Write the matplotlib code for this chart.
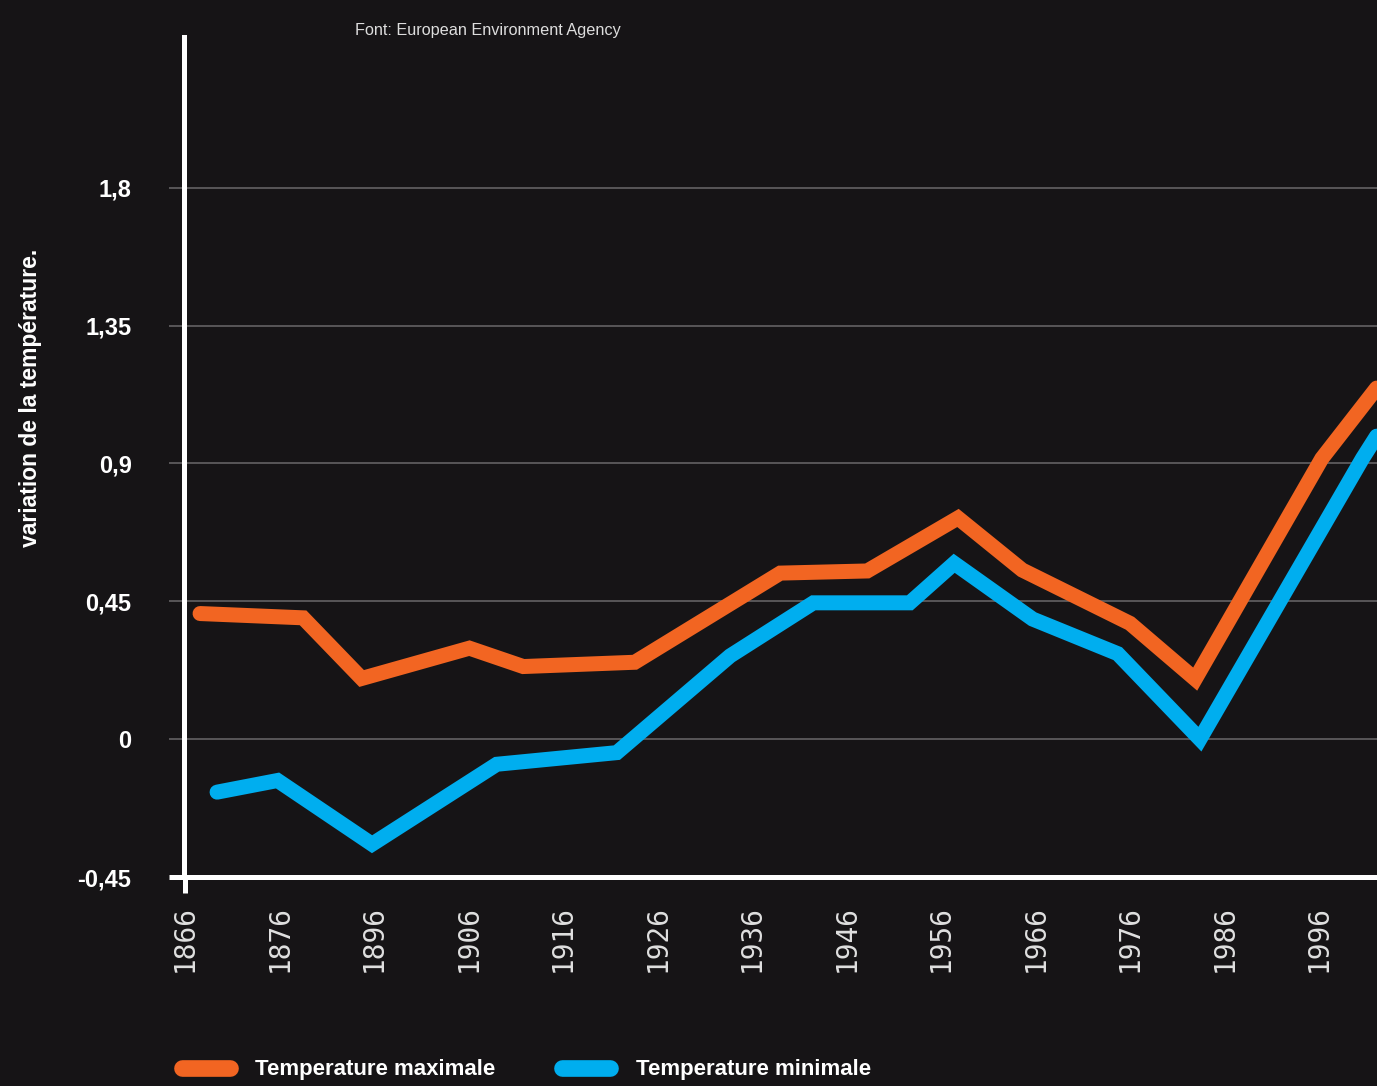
import matplotlib
matplotlib.use("Agg")
import matplotlib.pyplot as plt
from matplotlib.lines import Line2D

# x tick labels (evenly spaced on the axis, 1886 is skipped in the source)
tick_labels = ["1866", "1876", "1896", "1906", "1916", "1926", "1936",
               "1946", "1956", "1966", "1976", "1986", "1996"]

# positions in tick-index units
max_x = [0.16, 1.25, 1.87, 3.01, 3.58, 4.76, 6.30, 7.22, 8.18, 8.86, 10.0, 10.69, 12.03, 12.61]
max_y = [0.41, 0.396, 0.198, 0.297, 0.237, 0.251, 0.542, 0.549, 0.722, 0.552, 0.378, 0.196, 0.916, 1.146]

min_x = [0.34, 0.98, 1.98, 3.30, 4.57, 5.77, 6.65, 7.67, 8.14, 8.97, 9.87, 10.74, 12.46, 12.61]
min_y = [-0.173, -0.135, -0.343, -0.082, -0.044, 0.272, 0.445, 0.445, 0.574, 0.392, 0.279, 0.0, 0.916, 0.989]

y_ticks = [-0.45, 0, 0.45, 0.9, 1.35, 1.8]
y_labels = ["-0,45", "0", "0,45", "0,9", "1,35", "1,8"]

bg = "#161416"
orange = "#F26522"
blue = "#00AEEF"
grid_c = "#5e5c5e"

fig = plt.figure(figsize=(13.77, 10.86), dpi=100, facecolor=bg)
ax = fig.add_axes([184 / 1377, 1 - 877 / 1086, 1193 / 1377, 840 / 1086])
ax.set_facecolor(bg)

ax.plot(min_x, min_y, color=blue, lw=10.8, solid_capstyle="round",
        solid_joinstyle="miter", zorder=3)
ax.plot(max_x, max_y, color=orange, lw=10.8, solid_capstyle="round",
        solid_joinstyle="miter", zorder=3)

ax.set_xlim(-0.01, 12.614)
ax.set_ylim(-0.45, 2.292)

ax.set_xticks(range(len(tick_labels)))
ax.set_xticklabels(tick_labels, rotation=90, family="DejaVu Sans Mono",
                   fontsize=20, color="#e0e0e0")
ax.tick_params(axis="x", length=0, pad=20)
ax.xaxis.remove_overlapping_locs = False
ax.set_xticks([0], minor=True)
ax.tick_params(axis="x", which="minor", length=11.5, width=3.6, color="white")

ax.set_yticks(y_ticks, y_labels)
ax.tick_params(axis="y", length=10.8, width=1.3, color=grid_c, pad=27,
               labelsize=17, labelcolor="white")
for lab in ax.get_yticklabels():
    lab.set_fontfamily("Liberation Sans")
    lab.set_fontweight("bold")
first = ax.yaxis.get_major_ticks()[0]
first.tick1line.set_markeredgecolor("white")
first.tick1line.set_markeredgewidth(3.6)

ax.grid(axis="y", color=grid_c, lw=1.3)
ax.set_axisbelow(True)

for side in ["top", "right"]:
    ax.spines[side].set_visible(False)
for side in ["left", "bottom"]:
    ax.spines[side].set_color("white")
    ax.spines[side].set_linewidth(3.6)

fig.text(31 / 1377, 1 - 398 / 1086, "variation de la température.", rotation=90,
         ha="center", va="center", fontsize=16.5, fontweight="bold",
         family="Liberation Sans", color="white")

fig.text(355 / 1377, 1 - 31 / 1086, "Font: European Environment Agency",
         color="#dddddd", va="center", family="Liberation Sans", fontsize=11.7)

handles = [Line2D([], [], color=orange, lw=12, solid_capstyle="round"),
           Line2D([], [], color=blue, lw=12, solid_capstyle="round")]
fig.legend(handles, ["Temperature maximale", "Temperature minimale"],
           loc="center left", bbox_to_anchor=(181.5 / 1377, 1 - 1070 / 1086),
           ncol=2, frameon=False, handlelength=2.16, handletextpad=1.15,
           columnspacing=3.0, borderpad=0, borderaxespad=0,
           prop=dict(family="Liberation Sans", weight="bold", size=16),
           labelcolor="white")

fig.savefig("out.png", dpi=100, facecolor=bg)
